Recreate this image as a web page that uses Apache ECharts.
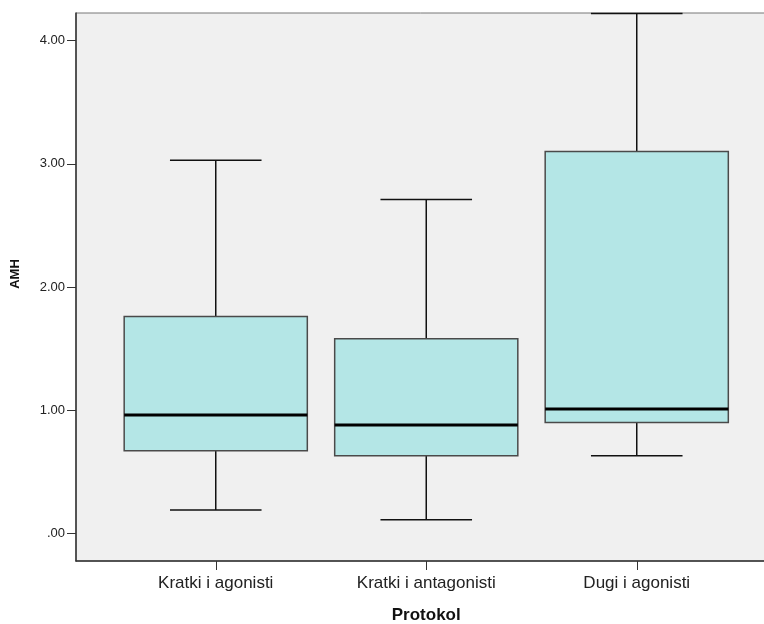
<!DOCTYPE html>
<html>
<head>
<meta charset="utf-8">
<script src="https://cdn.jsdelivr.net/npm/echarts@6/dist/echarts.min.js"></script>
<style>
html,body{margin:0;padding:0;background:#fff;}
#chart{width:764px;height:624px;}
</style>
</head>
<body>
<div id="chart"></div>
<script>
// ---- data ----
const categories = ['Kratki i agonisti', 'Kratki i antagonisti', 'Dugi i agonisti'];
const whiskerLow  = [0.19, 0.11, 0.63];
const quartile1   = [0.67, 0.63, 0.90];
const medians     = [0.96, 0.88, 1.01];
const quartile3   = [1.76, 1.58, 3.10];
const whiskerHigh = [3.03, 2.71, 4.22];
const yTickValues = [0, 1, 2, 3, 4];
const yTickLabels = ['.00', '1.00', '2.00', '3.00', '4.00'];
const xTitle = 'Protokol';
const yTitle = 'AMH';

const FONT = 'Liberation Sans, Arial, sans-serif';
const seriesData = categories.map((c, i) => [i, whiskerLow[i], quartile1[i], medians[i], quartile3[i], whiskerHigh[i]]);

const chart = echarts.init(document.getElementById('chart'));
chart.setOption({
  animation: false,
  backgroundColor: '#ffffff',
  grid: [
    { left: 76, top: 13, width: 700, bottom: 63, show: true, backgroundColor: '#f0f0f0', borderColor: '#777777', borderWidth: 1,
      containLabel: false, outerBoundsMode: 'none' },
    { left: 110.5, top: 13, width: 631.5, bottom: 63, containLabel: false, outerBoundsMode: 'none' }
  ],
  xAxis: [
    { gridIndex: 0, type: 'category', data: categories,
      axisLine: { show: true, onZero: false, lineStyle: { color: '#333333', width: 1.5 } },
      axisTick: { show: false }, axisLabel: { show: false }, splitLine: { show: false } },
    { gridIndex: 1, type: 'category', data: categories,
      axisLine: { show: false, onZero: false },
      axisTick: { show: true, alignWithLabel: true, length: 9, lineStyle: { color: '#333333', width: 1 } },
      axisLabel: { margin: 14, fontSize: 17, color: '#222222', fontFamily: FONT },
      splitLine: { show: false },
      name: xTitle, nameLocation: 'middle', nameGap: 46,
      nameTextStyle: { fontSize: 17, fontWeight: 'bold', color: '#111111', fontFamily: FONT } }
  ],
  yAxis: [
    { gridIndex: 0, type: 'value', min: -0.225, max: 4.225,
      axisLine: { show: true, onZero: false, lineStyle: { color: '#333333', width: 1.5 } },
      axisTick: { show: true, length: 9, customValues: yTickValues, lineStyle: { color: '#333333', width: 1 } },
      axisLabel: { show: true, margin: 11, customValues: yTickValues, fontSize: 13, color: '#222222', fontFamily: FONT,
        formatter: v => yTickLabels[yTickValues.indexOf(Math.round(v))] },
      splitLine: { show: false } },
    { gridIndex: 1, type: 'value', min: -0.225, max: 4.225, show: false }
  ],
  graphic: [{
    type: 'text', x: 15, y: 274, rotation: Math.PI / 2,
    style: { text: yTitle, align: 'center', verticalAlign: 'middle', font: 'bold 13px ' + FONT, fill: '#111111' }
  }],
  series: [{
    type: 'custom',
    xAxisIndex: 1, yAxisIndex: 1,
    clip: false,
    encode: { x: 0, y: [1, 2, 3, 4, 5] },
    data: seriesData,
    renderItem: function (params, api) {
      const x = api.value(0);
      const pLow = api.coord([x, api.value(1)]);
      const pQ1 = api.coord([x, api.value(2)]);
      const pMed = api.coord([x, api.value(3)]);
      const pQ3 = api.coord([x, api.value(4)]);
      const pHigh = api.coord([x, api.value(5)]);
      const band = api.size([1, 0])[0];
      const bw = band * 0.87;
      const cx = pMed[0];
      const half = bw / 2, capHalf = bw / 4;
      const lineStyle = { stroke: '#111111', lineWidth: 1.5 };
      return {
        type: 'group',
        children: [
          { type: 'line', shape: { x1: cx, y1: pHigh[1], x2: cx, y2: pQ3[1] }, style: lineStyle },
          { type: 'line', shape: { x1: cx, y1: pLow[1], x2: cx, y2: pQ1[1] }, style: lineStyle },
          { type: 'line', shape: { x1: cx - capHalf, y1: pHigh[1], x2: cx + capHalf, y2: pHigh[1] }, style: lineStyle },
          { type: 'line', shape: { x1: cx - capHalf, y1: pLow[1], x2: cx + capHalf, y2: pLow[1] }, style: lineStyle },
          { type: 'rect', shape: { x: cx - half, y: pQ3[1], width: bw, height: pQ1[1] - pQ3[1] },
            style: { fill: '#b4e6e6', stroke: '#4a4a4a', lineWidth: 1.5 } },
          { type: 'line', shape: { x1: cx - half, y1: pMed[1], x2: cx + half, y2: pMed[1] },
            style: { stroke: '#000000', lineWidth: 3 } }
        ]
      };
    }
  }]
});
</script>
</body>
</html>
